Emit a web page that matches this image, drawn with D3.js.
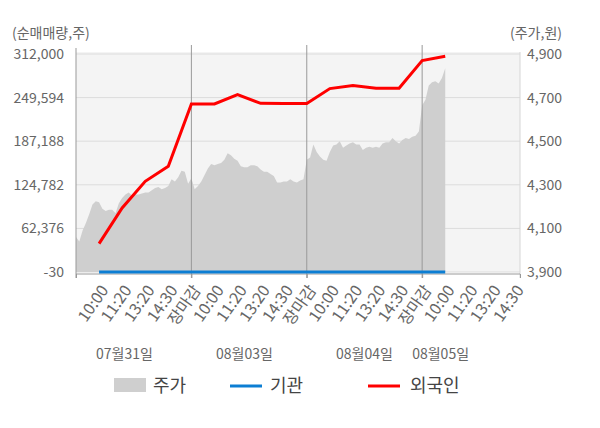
<!DOCTYPE html>
<html>
<head>
<meta charset="utf-8">
<script src="https://cdn.jsdelivr.net/npm/d3@7"></script>
<style>
  body { margin: 0; background: #fff; }
  svg { display: block; font-family: "Noto Sans CJK KR", "Noto Sans", sans-serif; }
  .tick text { fill: #666; }
</style>
</head>
<body>
<svg id="chart" width="600" height="428"></svg>
<script>
const dates = ["07월31일", "08월03일", "08월04일", "08월05일"];
const dateAt = [2.1, 7.3, 12.5, 15.8];
const timeLabels = ["10:00", "11:20", "13:20", "14:30", "장마감"];

// 주가, sampled evenly through each day (won)
const priceDay1 = [4060, 4040, 4090, 4125, 4165, 4210, 4225, 4220, 4190, 4180, 4185, 4185,
  4170, 4215, 4240, 4255, 4265, 4250, 4255, 4255, 4260, 4265, 4265, 4275, 4285, 4290,
  4280, 4285, 4295, 4325, 4315, 4335, 4365, 4360, 4305];
const priceDay2 = [4330, 4280, 4295, 4315, 4345, 4375, 4395, 4390, 4395, 4400, 4415, 4445,
  4435, 4420, 4410, 4385, 4380, 4380, 4390, 4390, 4385, 4370, 4360, 4360, 4350, 4340,
  4310, 4310, 4315, 4315, 4325, 4315, 4310, 4320, 4325];
const priceDay3 = [4415, 4425, 4485, 4450, 4430, 4415, 4410, 4450, 4480, 4485, 4500, 4470,
  4480, 4490, 4495, 4485, 4485, 4460, 4470, 4475, 4470, 4475, 4470, 4490, 4495, 4495,
  4515, 4500, 4490, 4505, 4515, 4510, 4520, 4525, 4545];
const priceDay4 = [4665, 4690, 4755, 4770, 4775, 4765, 4790, 4835];

// 순매매량 at each time label (주)
const foreign = [40500, 91600, 129700, 151200, 240600, 240600, 253900, 241400, 241000,
  241000, 262500, 266800, 262900, 262900, 302600, 308700];
const institution = [0, 0, 0, 0, 0, 0, 0, 0, 0, 0, 0, 0, 0, 0, 0, -30];

const leftTicks = [-30, 62376, 124782, 187188, 249594, 312000];
const rightTicks = [3900, 4100, 4300, 4500, 4700, 4900];

const svg = d3.select("#chart");
const plotLeft = 76, plotRight = 520, plotTop = 54, plotBottom = 272;
const slotsPerDay = 5;
const fmt = function (d) { return d3.format(",")(d).replace("−", "-"); };

const x = d3.scaleLinear().domain([0, 19.24]).range([plotLeft, plotRight]);
const yQty = d3.scaleLinear().domain([-30, 312000]).range([plotBottom, plotTop]);
const yPrice = d3.scaleLinear().domain([3900, 4900]).range([plotBottom, plotTop]);

// flatten price days into [slot, price]
const priceDays = [priceDay1, priceDay2, priceDay3, priceDay4];
const perDay = priceDay1.length;
const price = [];
priceDays.forEach(function (day, d) {
  day.forEach(function (v, i) {
    price.push([d * slotsPerDay + i * slotsPerDay / perDay, v]);
  });
});

// time label slots
const labelSlots = [];
dates.forEach(function (dt, d) {
  timeLabels.forEach(function (t, k) {
    const s = d * slotsPerDay + k + 1;
    if (s < 19.24) labelSlots.push({ s: s, text: t, d: d, k: k });
  });
});

// background
svg.append("rect")
  .attr("x", plotLeft).attr("y", plotTop - 2)
  .attr("width", plotRight - plotLeft).attr("height", plotBottom - plotTop + 2)
  .attr("fill", "#f4f4f4");

// horizontal grid
svg.append("g")
  .selectAll("line")
  .data(leftTicks)
  .enter()
  .append("line")
  .attr("x1", plotLeft).attr("x2", plotRight)
  .attr("y1", function (d) { return yQty(d); })
  .attr("y2", function (d) { return yQty(d); })
  .attr("stroke", "#dcdcdc");

// price area
svg.append("path")
  .datum(price)
  .attr("fill", "#cfcfcf")
  .attr("d", d3.area()
    .x(function (d) { return x(d[0]); })
    .y0(plotBottom)
    .y1(function (d) { return yPrice(d[1]); }));

// day separators
svg.append("g")
  .selectAll("line")
  .data([5, 10, 15])
  .enter()
  .append("line")
  .attr("x1", function (d) { return x(d); })
  .attr("x2", function (d) { return x(d); })
  .attr("y1", 45).attr("y2", 278)
  .attr("stroke", "#999");

// axis frame
svg.append("line").attr("x1", plotLeft).attr("x2", plotLeft).attr("y1", 48).attr("y2", 278).attr("stroke", "#999");
svg.append("line").attr("x1", plotRight).attr("x2", plotRight).attr("y1", plotTop - 2).attr("y2", 278).attr("stroke", "#d6d6d6");
svg.append("line").attr("x1", plotLeft).attr("x2", plotRight).attr("y1", plotBottom + 2).attr("y2", plotBottom + 2).attr("stroke", "#999");

// lines
const line = d3.line()
  .x(function (d, i) { return x(i + 1); })
  .y(function (d) { return yQty(d); });

svg.append("path")
  .datum(institution)
  .attr("fill", "none")
  .attr("stroke", "#0c7ed3")
  .attr("stroke-width", 3)
  .attr("d", line);

svg.append("path")
  .datum(foreign)
  .attr("fill", "none")
  .attr("stroke", "#ff0000")
  .attr("stroke-width", 3)
  .attr("d", line);

// left axis
const leftAxis = svg.append("g")
  .attr("transform", "translate(" + plotLeft + ",0)")
  .call(d3.axisLeft(yQty).tickValues(leftTicks).tickSize(0).tickPadding(12).tickFormat(fmt));
leftAxis.attr("font-family", null).attr("font-size", null);
leftAxis.select(".domain").remove();
leftAxis.selectAll("text").style("font-size", "14px");

// right axis
const rightAxis = svg.append("g")
  .attr("transform", "translate(" + plotRight + ",0)")
  .call(d3.axisRight(yPrice).tickValues(rightTicks).tickSize(0).tickPadding(7).tickFormat(fmt));
rightAxis.attr("font-family", null).attr("font-size", null);
rightAxis.select(".domain").remove();
rightAxis.selectAll("text").style("font-size", "14px");

// unit labels
svg.append("text").attr("x", 12).attr("y", 38).attr("fill", "#666")
  .style("font-size", "14px").text("(순매매량,주)");
svg.append("text").attr("x", 510).attr("y", 38).attr("fill", "#666")
  .style("font-size", "14px").text("(주가,원)");

// boundary ticks
const tickAxis = svg.append("g")
  .attr("transform", "translate(0," + (plotBottom + 2) + ")")
  .call(d3.axisBottom(x).tickValues([0, 5, 10, 15, 19.24]).tickSize(4).tickFormat(""));
tickAxis.select(".domain").remove();
tickAxis.selectAll("line").attr("stroke", "#999");

// time labels
const timeAxis = svg.append("g")
  .attr("transform", "translate(0," + (plotBottom + 2) + ")")
  .call(d3.axisBottom(x).tickValues(labelSlots.map(function (d) { return d.s; }))
    .tickSize(0)
    .tickFormat(function (d, i) { return labelSlots[i].text; }));
timeAxis.attr("font-family", null).attr("font-size", null);
timeAxis.select(".domain").remove();
timeAxis.selectAll("text")
  .style("font-size", "16px")
  .attr("text-anchor", "end")
  .attr("x", 0).attr("y", 0).attr("dy", "0.35em")
  .attr("transform", "translate(5,13) rotate(-55)")
  .attr("fill", function (d, i) {
    const l = labelSlots[i];
    if (l.k === 4) return "#ff0000";
    if (l.d === 3 && l.k === 0) return "#333";
    return "#666";
  });

// date labels
svg.append("g")
  .selectAll("text")
  .data(dates)
  .enter()
  .append("text")
  .attr("x", function (d, i) { return x(dateAt[i]); })
  .attr("y", 359)
  .attr("text-anchor", "middle")
  .attr("fill", "#666")
  .style("font-size", "14px")
  .text(function (d) { return d; });

// legend
const legend = svg.append("g").style("font-size", "18px");
legend.append("rect").attr("x", 114).attr("y", 378).attr("width", 32).attr("height", 14).attr("fill", "#cfcfcf");
legend.append("text").attr("x", 153).attr("y", 392).attr("fill", "#444").text("주가");
legend.append("line").attr("x1", 230).attr("x2", 262).attr("y1", 386).attr("y2", 386)
  .attr("stroke", "#0c7ed3").attr("stroke-width", 3);
legend.append("text").attr("x", 270).attr("y", 392).attr("fill", "#444").text("기관");
legend.append("line").attr("x1", 368).attr("x2", 400).attr("y1", 386).attr("y2", 386)
  .attr("stroke", "#ff0000").attr("stroke-width", 3);
legend.append("text").attr("x", 410).attr("y", 392).attr("fill", "#444").text("외국인");
</script>
</body>
</html>
